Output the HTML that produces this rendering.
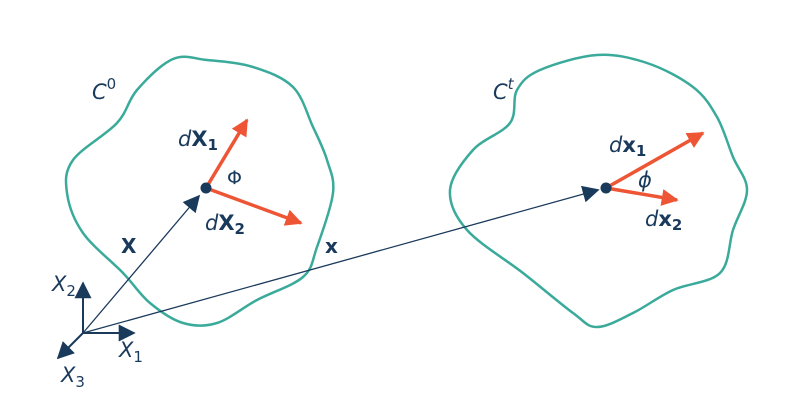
<!DOCTYPE html>
<html><head><meta charset="utf-8"><style>
html,body{margin:0;padding:0;background:#fff;}
svg text{font-family:"DejaVu Sans","Liberation Sans",sans-serif;fill:#1a3a5c;}
</style></head><body>
<svg id="s" width="800" height="400" viewBox="0 0 800 400" xmlns="http://www.w3.org/2000/svg">
<defs>
<marker id="an" viewBox="0 0 10 10" refX="9" refY="5" markerWidth="17" markerHeight="17" markerUnits="userSpaceOnUse" orient="auto"><path d="M0,0 L10,5 L0,10 z" fill="#1a3a5c"/></marker>
<marker id="ao" viewBox="0 0 10 10" refX="9" refY="5" markerWidth="17" markerHeight="17" markerUnits="userSpaceOnUse" orient="auto"><path d="M0,0 L10,5 L0,10 z" fill="#ee5535"/></marker>
</defs>
<path id="b1" fill="none" stroke="#3aaa9a" stroke-width="2.5"/>
<path id="b2" fill="none" stroke="#3aaa9a" stroke-width="2.5"/>
<g stroke="#1a3a5c" stroke-width="1.3" fill="none">
<line x1="83" y1="333" x2="199" y2="196" marker-end="url(#an)"/>
<line x1="83" y1="333" x2="598" y2="190" marker-end="url(#an)"/>
<line x1="83" y1="333" x2="83" y2="283" stroke-width="2" marker-end="url(#an)"/>
<line x1="83" y1="333" x2="134" y2="333" stroke-width="2" marker-end="url(#an)"/>
<line x1="83" y1="333" x2="58" y2="358" stroke-width="2" marker-end="url(#an)"/>
</g>
<g stroke="#ee5535" stroke-width="3.5" fill="none">
<line x1="206" y1="188" x2="247" y2="120" marker-end="url(#ao)"/>
<line x1="206" y1="188" x2="301" y2="223" marker-end="url(#ao)"/>
<line x1="606" y1="188" x2="703" y2="133" marker-end="url(#ao)"/>
<line x1="606" y1="188" x2="677" y2="200" marker-end="url(#ao)"/>
</g>
<circle cx="206" cy="188" r="5.5" fill="#1a3a5c"/>
<circle cx="606" cy="188" r="5.5" fill="#1a3a5c"/>
<text x="92" y="99" font-size="21" font-style="italic">C<tspan font-size="15" dy="-10" font-style="normal">0</tspan></text>
<text x="493" y="99" font-size="21" font-style="italic">C<tspan font-size="15" dy="-10">t</tspan></text>
<text x="178" y="146" font-size="21"><tspan font-style="italic">d</tspan><tspan font-weight="bold">X<tspan font-size="15" dy="4">1</tspan></tspan></text>
<text x="205" y="230" font-size="21"><tspan font-style="italic">d</tspan><tspan font-weight="bold">X<tspan font-size="15" dy="4">2</tspan></tspan></text>
<text x="227" y="184" font-size="19">Φ</text>
<text x="609" y="152" font-size="21"><tspan font-style="italic">d</tspan><tspan font-weight="bold">x<tspan font-size="15" dy="4">1</tspan></tspan></text>
<text x="645" y="226" font-size="21"><tspan font-style="italic">d</tspan><tspan font-weight="bold">x<tspan font-size="15" dy="4">2</tspan></tspan></text>
<text x="638" y="187" font-size="21" font-style="italic">ϕ</text>
<text x="121" y="253" font-size="20" font-weight="bold">X</text>
<text x="325" y="253" font-size="20" font-weight="bold">x</text>
<text x="52" y="291" font-size="21" font-style="italic">X<tspan font-size="15" dy="5" font-style="normal">2</tspan></text>
<text x="119" y="357" font-size="21" font-style="italic">X<tspan font-size="15" dy="5" font-style="normal">1</tspan></text>
<text x="61" y="382" font-size="21" font-style="italic">X<tspan font-size="15" dy="5" font-style="normal">3</tspan></text>
</svg>
<script>
function cr(p){var n=p.length,d="M"+p[0][0]+","+p[0][1];
for(var i=0;i<n;i++){var p0=p[(i-1+n)%n],p1=p[i],p2=p[(i+1)%n],p3=p[(i+2)%n];
var c1=[p1[0]+(p2[0]-p0[0])/6,p1[1]+(p2[1]-p0[1])/6],c2=[p2[0]-(p3[0]-p1[0])/6,p2[1]-(p3[1]-p1[1])/6];
d+=" C"+c1[0].toFixed(1)+","+c1[1].toFixed(1)+" "+c2[0].toFixed(1)+","+c2[1].toFixed(1)+" "+p2[0]+","+p2[1];}
return d+"Z";}
var L=[[173,59],[137,90],[117,123],[73,160],[67,193],[83,233],[123,273],[150,303],[183,323],[217,323],[257,300],[303,277],[317,247],[333,193],[327,160],[313,127],[293,87],[253,67],[207,60]];
var R=[[597,55],[540,70],[517,90],[510,123],[473,150],[450,190],[467,230],[523,273],[573,313],[597,327],[633,313],[673,290],[720,273],[733,230],[747,190],[733,157],[717,117],[693,87],[647,63]];
document.getElementById("b1").setAttribute("d",cr(L));
document.getElementById("b2").setAttribute("d",cr(R));
</script>
</body></html>
